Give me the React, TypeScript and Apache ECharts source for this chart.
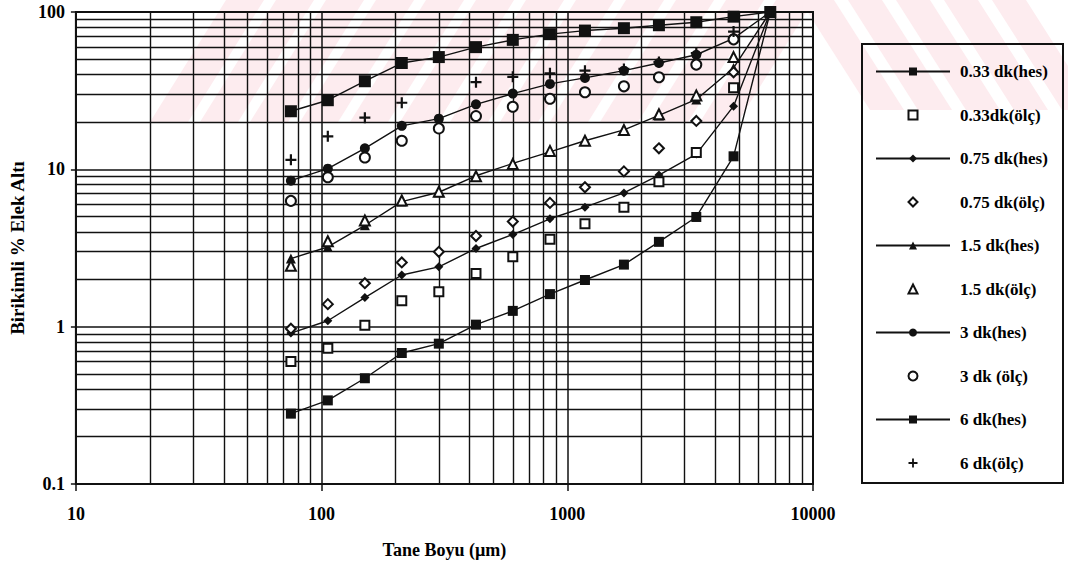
import React, { useEffect, useRef } from "react";
import * as echarts from "echarts";

// Sieve sizes (µm)
const sieveSizes = [75, 106, 150, 212, 300, 425, 600, 850, 1180, 1700, 2360, 3350, 4750, 6700];

// Cumulative % passing (null = no point)
const hes033 = [0.28, 0.34, 0.47, 0.68, 0.78, 1.03, 1.26, 1.61, 1.98, 2.48, 3.46, 4.98, 12.1, 100];
const olc033 = [0.6, 0.73, 1.02, 1.46, 1.67, 2.18, 2.78, 3.59, 4.51, 5.75, 8.35, 12.8, 33.0, null];
const hes075 = [0.91, 1.09, 1.53, 2.13, 2.4, 3.14, 3.85, 4.85, 5.75, 7.08, 9.2, 12.5, 25.2, 100];
const olc075 = [0.97, 1.39, 1.89, 2.56, 2.99, 3.77, 4.66, 6.12, 7.69, 9.7, 13.6, 20.3, 41.4, null];
const hes15 = [2.71, 3.21, 4.41, 6.24, 7.15, 9.1, 10.9, 12.9, 15.2, 17.8, 22.0, 27.8, 44.1, 100];
const olc15 = [2.44, 3.49, 4.73, 6.34, 7.2, 9.03, 10.8, 13.1, 15.2, 17.8, 22.4, 29.5, 51.7, null];
const hes3 = [8.47, 10.1, 13.6, 18.9, 21.0, 25.9, 30.3, 34.9, 38.1, 42.4, 47.4, 53.5, 68, 100];
const olc3 = [6.3, 8.9, 11.9, 15.2, 18.2, 21.8, 25.0, 28.1, 30.9, 33.7, 38.5, 46.3, 67, null];
const hes6 = [23.4, 27.5, 36.3, 47.4, 51.7, 59.8, 66.5, 72.3, 76.2, 78.9, 82.4, 86.1, 93.4, 100];
const olc6 = [11.5, 16.2, 21.3, 26.5, null, 35.8, 38.7, 40.8, 42.4, 43.5, 48.1, 54.8, 75.1, 100];

const hesNames = ["0.33 dk(hes)", "0.75 dk(hes)", "1.5 dk(hes)", "3 dk(hes)", "6 dk(hes)"];
const olcNames = ["0.33dk(ölç)", "0.75 dk(ölç)", "1.5 dk(ölç)", "3 dk (ölç)", "6 dk(ölç)"];

// Log-paper grid
const xDecades = [10, 100, 1000];
const yDecades = [0.1, 1, 10];
const gridMultipliers = [2, 3, 4, 5, 6, 7, 8, 9];

const FONT = "'Liberation Serif', 'Times New Roman', serif";
const INK = "#111";

const toPairs = (vals: (number | null)[]) =>
  sieveSizes.map((x, i) => [x, vals[i]]).filter((p) => p[1] !== null);

const plusPath = "path://M4,0H6V4H10V6H6V10H4V6H0V4H4Z";

export default function App() {
  const ref = useRef<HTMLDivElement>(null);
  useEffect(() => {
    const chart = echarts.init(ref.current!, null, { renderer: "svg" });

    const xLines: number[] = [];
    xDecades.forEach((d) => gridMultipliers.forEach((m) => xLines.push(Number((d * m).toPrecision(3)))));
    const yLines: number[] = [];
    yDecades.forEach((d) => gridMultipliers.forEach((m) => yLines.push(Number((d * m).toPrecision(3)))));

    // decorative watermark stripes (pale pink)
    const wm: any[] = [];
    for (let i = 0; i < 12; i++) {
      const x0 = 150 + i * 50;
      wm.push({
        type: "polygon",
        z: -10,
        silent: true,
        shape: { points: [[x0, 122], [x0 + 38, 122], [x0 + 38 + 76, 0], [x0 + 76, 0]] },
        style: { fill: "#fdecef" },
      });
    }
    for (let i = 0; i < 5; i++) {
      const x0 = 800 + i * 48;
      wm.push({
        type: "polygon",
        z: -10,
        silent: true,
        shape: { points: [[x0, 0], [x0 + 34, 0], [x0 + 34 + 70, 110], [x0 + 70, 110]] },
        style: { fill: "#fdecef" },
      });
    }

    const lineBase = (name: string, vals: number[], symbol: string, size: number) => ({
      name,
      type: "line",
      data: toPairs(vals),
      symbol,
      symbolSize: size,
      showAllSymbol: true,
      z: 3,
      lineStyle: { color: INK, width: 1.4 },
      itemStyle: { color: INK, opacity: 1 },
    });
    const scatterBase = (name: string, vals: (number | null)[], symbol: string, size: number) => ({
      name,
      type: "scatter",
      data: toPairs(vals),
      symbol,
      symbolSize: size,
      z: 4,
      itemStyle: { color: INK, borderColor: INK, borderWidth: 1.5, opacity: 1 },
    });

    const legendText = (padLeft: number) => ({
      fontFamily: FONT,
      fontSize: 17,
      fontWeight: "bold",
      color: "#000",
      padding: [0, 0, 0, padLeft],
    });

    const option: any = {
      animation: false,
      backgroundColor: "#fff",
      textStyle: { fontFamily: FONT },
      graphic: [
        ...wm,
        {
          type: "rect",
          z: 10,
          silent: true,
          shape: { x: 862, y: 44, width: 201, height: 439 },
          style: { fill: "none", stroke: INK, lineWidth: 2 },
        },
      ],
      grid: {
        left: 75,
        right: 255,
        top: 12,
        bottom: 77,
        show: true,
        borderColor: INK,
        borderWidth: 2,
        backgroundColor: "transparent",
      },
      xAxis: {
        type: "log",
        logBase: 10,
        min: 10,
        max: 10000,
        name: "Tane Boyu (µm)",
        nameLocation: "middle",
        nameGap: 57,
        nameTextStyle: { fontFamily: FONT, fontSize: 18, fontWeight: "bold", color: "#000" },
        axisLine: { show: true, lineStyle: { color: INK, width: 2 } },
        axisTick: { show: true, length: 7, lineStyle: { color: INK, width: 1.5 } },
        axisLabel: {
          fontFamily: FONT,
          fontSize: 18,
          fontWeight: "bold",
          color: "#000",
          margin: 21,
          formatter: (v: number) => String(Number(v.toPrecision(3))),
        },
        splitLine: { show: true, lineStyle: { color: INK, width: 1.5 } },
      },
      yAxis: {
        type: "log",
        logBase: 10,
        min: 0.1,
        max: 100,
        name: "Birikimli % Elek Altı",
        nameLocation: "middle",
        nameGap: 46,
        nameTextStyle: { fontFamily: FONT, fontSize: 19, fontWeight: "bold", color: "#000" },
        axisLine: { show: true, lineStyle: { color: INK, width: 2 } },
        axisTick: { show: true, length: 5, lineStyle: { color: INK, width: 1.5 } },
        axisLabel: {
          fontFamily: FONT,
          fontSize: 18,
          fontWeight: "bold",
          color: "#000",
          margin: 11,
          formatter: (v: number) => String(Number(v.toPrecision(3))),
        },
        splitLine: { show: true, lineStyle: { color: INK, width: 1.5 } },
      },
      legend: [
        {
          orient: "vertical",
          left: 875,
          top: 63,
          padding: 0,
          itemWidth: 74,
          itemHeight: 10,
          itemGap: 70,
          selectedMode: false,
          textStyle: legendText(5),
          data: hesNames,
        },
        {
          orient: "vertical",
          left: 907.5,
          top: 106.5,
          padding: 0,
          itemWidth: 9,
          itemHeight: 9,
          itemGap: 70,
          selectedMode: false,
          itemStyle: { opacity: 1 },
          textStyle: legendText(37.5),
          data: olcNames,
        },
      ],
      series: [
        {
          name: "__grid",
          type: "line",
          data: [],
          silent: true,
          markLine: {
            silent: true,
            z: 1,
            symbol: ["none", "none"],
            label: { show: false },
            emphasis: { disabled: true },
            lineStyle: { color: INK, width: 1.4, type: "solid" },
            data: [...xLines.map((v) => ({ xAxis: v })), ...yLines.map((v) => ({ yAxis: v }))],
          },
        },
        lineBase(hesNames[0], hes033, "rect", 10),
        scatterBase(olcNames[0], olc033, "emptyRect", 9),
        lineBase(hesNames[1], hes075, "diamond", 9),
        scatterBase(olcNames[1], olc075, "emptyDiamond", 10),
        lineBase(hesNames[2], hes15, "triangle", 10),
        scatterBase(olcNames[2], olc15, "emptyTriangle", 10),
        lineBase(hesNames[3], hes3, "circle", 10),
        scatterBase(olcNames[3], olc3, "emptyCircle", 10),
        lineBase(hesNames[4], hes6, "rect", 12),
        { ...scatterBase(olcNames[4], olc6, plusPath, 11), itemStyle: { color: INK, opacity: 1 } },
      ],
    };

    chart.setOption(option);
    return () => chart.dispose();
  }, []);
  return <div ref={ref} style={{ position: "fixed", left: 0, top: 0, width: 1068, height: 564 }} />;
}
